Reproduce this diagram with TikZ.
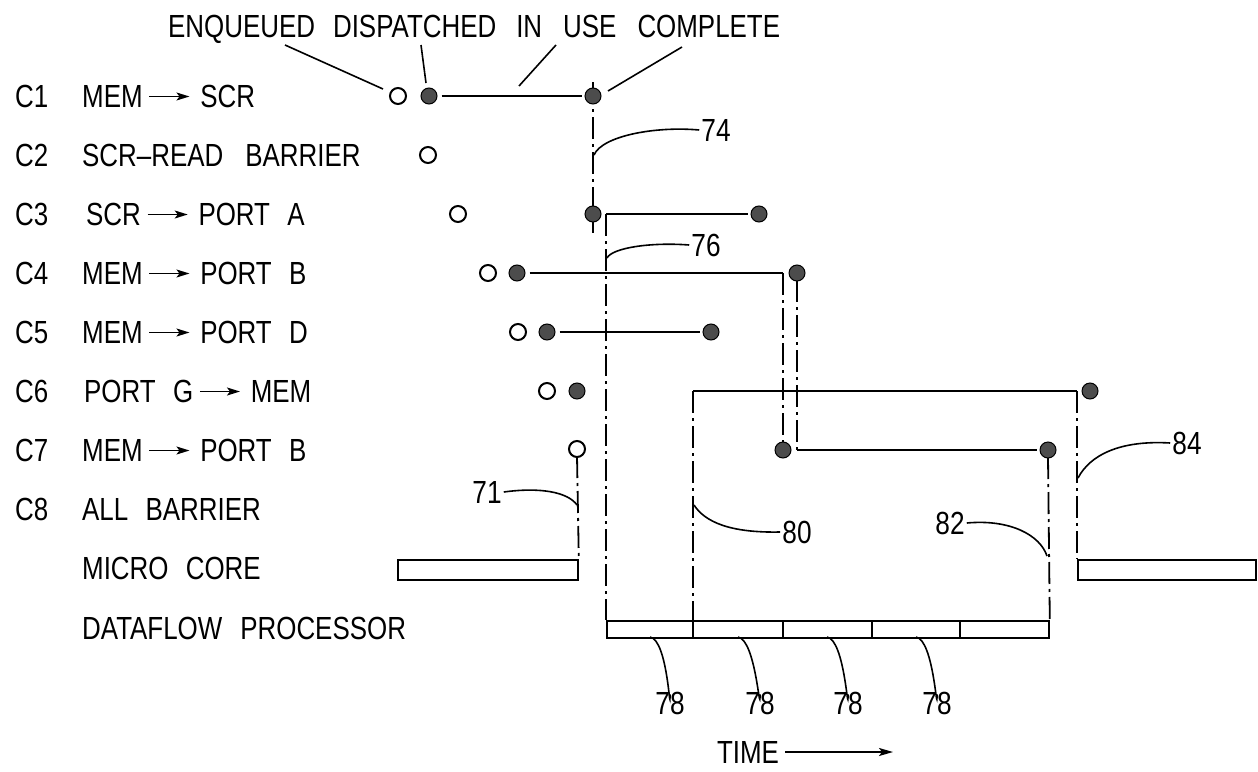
\documentclass[tikz,border=0pt]{standalone}
\usepackage{fontspec}
\newfontfamily\labfont[FakeStretch=0.81,WordSpace=2.4]{Liberation Sans}
\newfontfamily\numfont[FakeStretch=0.82]{Liberation Sans}
\usetikzlibrary{arrows.meta}
\newsavebox\arrbox
\sbox\arrbox{\tikz[baseline={(0pt,-11pt)}]\draw[line width=1.6pt,-{Stealth[length=13pt,width=8pt,inset=3pt]}] (0pt,0pt) -- (40pt,0pt);}
\newcommand\myarr{\hspace{6pt}\usebox\arrbox\hspace{10pt}}
\begin{document}
\begin{tikzpicture}[x=1pt,y=-1pt,
  lab/.style={font=\labfont\fontsize{32}{34}\selectfont, inner sep=0pt},
  num/.style={font=\numfont\fontsize{32}{34}\selectfont, inner sep=0pt},
  ln/.style={line width=1.8pt},
  ld/.style={line width=1.6pt},
  dd/.style={line width=1.8pt, dash pattern=on 22pt off 5pt on 3pt off 5pt},
  fdot/.style={circle, draw=black, line width=1pt, fill=black!70, inner sep=0pt, minimum size=16pt},
  odot/.style={circle, draw=black, line width=2pt, fill=white, inner sep=0pt, minimum size=16pt},
  bar/.style={draw, line width=1.8pt, inner sep=0pt, anchor=north west},
]
\useasboundingbox (0,0) rectangle (1258,771);

% ---- top headings
\node[lab, anchor=base west] (head) at (168,37)
  {ENQUEUED\hspace{18pt}DISPATCHED\hspace{20pt}IN\hspace{21pt}USE\hspace{21pt}COMPLETE};

% ---- row labels
\foreach \i/\y in {1/96,2/155,3/214,4/273,5/332,6/391,7/450,8/509}
  \node[lab, anchor=base west] (c\i) at (15,\y+11.5) {C\i};
\node[lab, anchor=base west] (t1) at (82,107.5) {MEM\myarr SCR};
\node[lab, anchor=base west] (t2) at (82,166.5) {SCR\textendash READ\hspace{22pt}BARRIER};
\node[lab, anchor=base west] (t3) at (86,225.5) {SCR\myarr PORT A};
\node[lab, anchor=base west] (t4) at (82,284.5) {MEM\myarr PORT B};
\node[lab, anchor=base west] (t5) at (82,343.5) {MEM\myarr PORT D};
\node[lab, anchor=base west] (t6) at (84,402.5) {PORT G\myarr MEM};
\node[lab, anchor=base west] (t7) at (82,461.5) {MEM\myarr PORT B};
\node[lab, anchor=base west] (t8) at (82,520.5) {ALL BARRIER};
\node[lab, anchor=base west] (t9) at (82,579.5) {MICRO CORE};
\node[lab, anchor=base west] (t10) at (82,639.5) {DATAFLOW\hspace{18pt}PROCESSOR};

% ---- bars
\node[bar, minimum width=180pt, minimum height=20pt] (mc1) at (397,559) {};
\node[bar, minimum width=178pt, minimum height=20pt] (mc2) at (1077,559) {};
\node[bar, minimum width=442pt, minimum height=17pt] (dfp) at (606,620) {};
\foreach \x in {693,783,872,960} \draw[ln] (\x,620) -- (\x,637);

% ---- corner / end coordinates
\coordinate (v1t) at (593,82);
\coordinate (v1b) at (593,233);
\coordinate (q3) at (606,214);
\coordinate (q4) at (783,273);
\coordinate (q6a) at (693,391);
\coordinate (q6b) at (1077,391);
\coordinate (q7) at (797,450);
\coordinate (b6) at (693,620);

% ---- dashed-dotted time lines
\draw[dd] (v1t) -- (v1b);
\draw[dd] (q3) -- (dfp.north west);
\draw[dd] (q4) -- (783,443);
\draw[dd] (797,280) -- (q7);
\draw[dd] (q6a) -- (b6);
\draw[dd] (q6b) -- (mc2.north west);
\draw[dd] (1048,457) -- (dfp.north east);
\draw[dd] (577,456) -- (mc1.north east);

% ---- dots
\node[odot] (e1) at (398,96) {};
\node[fdot] (d1) at (429,96) {};
\node[fdot] (k1) at (593,96) {};
\node[odot] (e2) at (428,155) {};
\node[odot] (e3) at (458,214) {};
\node[fdot] (d3) at (593,214) {};
\node[fdot] (k3) at (759,214) {};
\node[odot] (e4) at (488,273) {};
\node[fdot] (d4) at (517,273) {};
\node[fdot] (k4) at (797,273) {};
\node[odot] (e5) at (518,332) {};
\node[fdot] (d5) at (547,332) {};
\node[fdot] (k5) at (711,332) {};
\node[odot] (e6) at (547,391) {};
\node[fdot] (d6) at (577,391) {};
\node[fdot] (k6) at (1090,391) {};
\node[odot] (e7) at (577,449) {};
\node[fdot] (d7) at (783,450) {};
\node[fdot] (k7) at (1048,450) {};

% ---- in-use lines
\draw[ln, shorten <=4pt, shorten >=3pt] (d1) -- (k1);
\draw[ln, shorten >=3pt] (q3) -- (k3);
\draw[ln, shorten <=4pt] (d4) -- (q4);
\draw[ln, shorten <=4pt, shorten >=3pt] (d5) -- (k5);
\draw[ln] (q6a) -- (q6b);
\draw[ln, shorten >=3pt] (q7) -- (k7);

% ---- heading leaders
\coordinate (lEnqA) at (285,45);  \coordinate (lEnqB) at (383,89);
\coordinate (lDisA) at (421,45);  \coordinate (lDisB) at (426,83);
\coordinate (lUseA) at (556,45);  \coordinate (lUseB) at (519,86);
\coordinate (lComA) at (682,47);  \coordinate (lComB) at (608,91);
\draw[ld] (lEnqA) -- (lEnqB);
\draw[ld] (lDisA) -- (lDisB);
\draw[ld] (lUseA) -- (lUseB);
\draw[ld] (lComA) -- (lComB);

% ---- reference numerals
\node[num] (n74) at (716,130) {74};
\node[num] (n76) at (706,245) {76};
\node[num] (n80) at (797,532) {80};
\node[num] (n82) at (950,523) {82};
\node[num] (n84) at (1187,443) {84};
\node[num] (n71) at (487,492) {71};
\node[num] (n78a) at (670,703) {78};
\node[num] (n78b) at (760,703) {78};
\node[num] (n78c) at (848,703) {78};
\node[num] (n78d) at (937,703) {78};

\coordinate (a74) at (594,155);
\coordinate (a76) at (607,258);
\coordinate (a80) at (694,505);
\coordinate (a82) at (1047,556);
\coordinate (a84) at (1078,478);
\coordinate (a71) at (577,505);
\draw[ld] (n74.west) ++(-2,0) .. controls (655,126) and (602,136) .. (a74);
\draw[ld] (n76.west) ++(-2,0) .. controls (650,242) and (612,248) .. (a76);
\draw[ld] (n80.west) ++(-2,0) .. controls (730,533) and (705,522) .. (a80);
\draw[ld] (n82.east) ++(2,0) .. controls (1010,519) and (1040,535) .. (a82);
\draw[ld] (n84.west) ++(-2,0) .. controls (1120,440) and (1090,455) .. (a84);
\draw[ld] (n71.east) ++(2,0) .. controls (540,487) and (568,492) .. (a71);

\coordinate (s78a) at (650,637);
\coordinate (s78b) at (738,637);
\coordinate (s78c) at (827,637);
\coordinate (s78d) at (916,637);
\foreach \s/\n in {s78a/n78a,s78b/n78b,s78c/n78c,s78d/n78d}
  \draw[ld] (\s) .. controls ([xshift=18pt,yshift=-3pt]\s) and ([yshift=-28pt]\n.north) .. ([yshift=-3pt]\n.north);

% ---- time arrow
\node[lab] (time) at (748,752) {TIME};
\coordinate (tend) at (893,752);
\draw[ln, shorten <=6pt, -{Stealth[length=14pt,width=8pt,inset=3pt]}] (time.east) -- (tend);
\end{tikzpicture}
\end{document}
